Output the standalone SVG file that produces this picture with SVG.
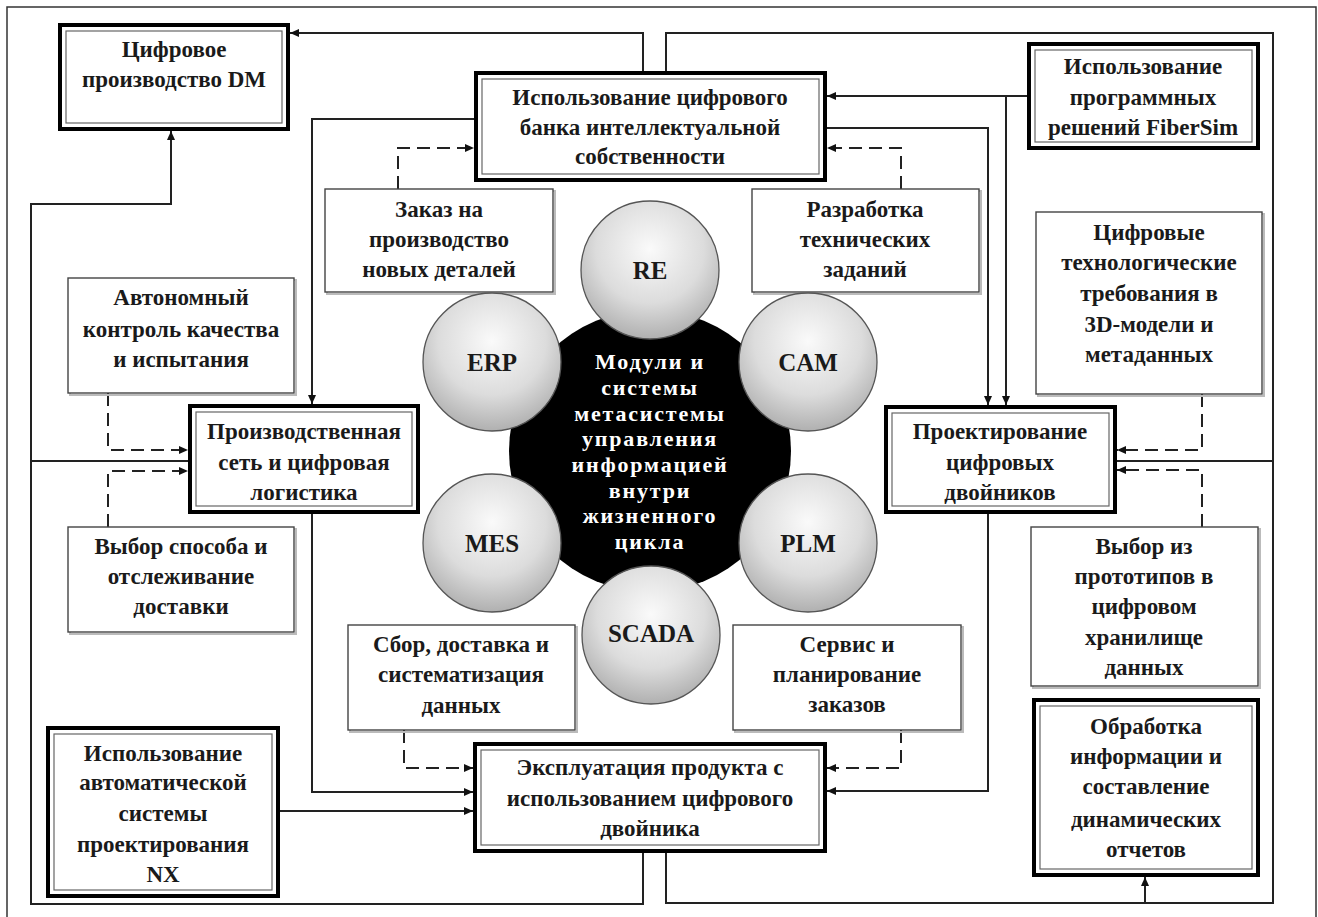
<svg xmlns="http://www.w3.org/2000/svg" width="1318" height="917" viewBox="0 0 1318 917">
<defs>
<style>
.t{font-family:"Liberation Serif","DejaVu Serif",serif;font-weight:bold;font-size:23px;fill:#1a1a1a;text-anchor:middle}
.c{font-family:"Liberation Serif","DejaVu Serif",serif;font-weight:bold;font-size:25px;fill:#1a1a1a;text-anchor:middle}
.w{font-family:"Liberation Serif","DejaVu Serif",serif;font-weight:bold;font-size:22px;fill:#fff;text-anchor:middle;letter-spacing:1.8px}
.bo{fill:#fff;stroke:#000;stroke-width:4}
.bi{fill:none;stroke:#666;stroke-width:1.2}
.tb{fill:#fff;stroke:#444;stroke-width:1.4}
.sh{fill:none;stroke:#bbb;stroke-width:2}
.ln{fill:none;stroke:#222;stroke-width:2}
.dl{fill:none;stroke:#222;stroke-width:2;stroke-dasharray:13 7}
.ci{fill:url(#g);stroke:#555;stroke-width:1.3}
</style>
<radialGradient id="g" cx="50%" cy="35%" r="65%">
<stop offset="0" stop-color="#fafafa"/>
<stop offset="0.6" stop-color="#dcdcdc"/>
<stop offset="1" stop-color="#b0b0b0"/>
</radialGradient>
<marker id="a" markerUnits="userSpaceOnUse" markerWidth="9" markerHeight="8" refX="9" refY="4" orient="auto">
<path d="M0,0 L9,4 L0,8 z" fill="#111"/>
</marker>
</defs>
<rect width="1318" height="917" fill="#fff"/>
<path d="M7,920 V7 H1316 V920" fill="none" stroke="#333" stroke-width="1.5"/>

<g id="connectors">
<path class="ln" d="M643,71 V33 H290" marker-end="url(#a)"/>
<path class="ln" d="M666,71 V33 H1273 V903 H666 V853"/>
<path class="ln" d="M1145,903 V877" marker-end="url(#a)"/>
<path class="ln" d="M1117,461 H1273"/>
<path class="ln" d="M643,853 V904 H31 V204 H171 V131" marker-end="url(#a)"/>
<path class="ln" d="M188,461 H31"/>
<path class="ln" d="M474,119 H312 V404" marker-end="url(#a)"/>
<path class="ln" d="M312,514 V792 H473" marker-end="url(#a)"/>
<path class="ln" d="M280,811 H473" marker-end="url(#a)"/>
<path class="ln" d="M1027,96 H827" marker-end="url(#a)"/>
<path class="ln" d="M1006,96 V405" marker-end="url(#a)"/>
<path class="ln" d="M827,128 H988 V405" marker-end="url(#a)"/>
<path class="ln" d="M988,514 V791 H827" marker-end="url(#a)"/>
<path class="dl" d="M398,189 V148 H474" marker-end="url(#a)"/>
<path class="dl" d="M901,189 V148 H827" marker-end="url(#a)"/>
<path class="dl" d="M108,393 V450 H188" marker-end="url(#a)"/>
<path class="dl" d="M108,527 V471 H188" marker-end="url(#a)"/>
<path class="dl" d="M1202,394 V450 H1117" marker-end="url(#a)"/>
<path class="dl" d="M1202,527 V470 H1117" marker-end="url(#a)"/>
<path class="dl" d="M404,730 V768 H473" marker-end="url(#a)"/>
<path class="dl" d="M901,730 V768 H827" marker-end="url(#a)"/>
</g>

<g id="n-dm">
<rect class="bo" x="60" y="25" width="228" height="104"/>
<rect class="bi" x="66" y="31" width="216" height="92"/>
<text class="t" x="174" y="57">Цифровое</text>
<text class="t" x="174" y="87">производство DM</text>
</g>
<g id="n-bank">
<rect class="bo" x="476" y="73" width="349" height="107"/>
<rect class="bi" x="482" y="79" width="337" height="95"/>
<text class="t" x="650" y="105">Использование цифрового</text>
<text class="t" x="650" y="135">банка интеллектуальной</text>
<text class="t" x="650" y="164">собственности</text>
</g>
<g id="n-fibersim">
<rect class="bo" x="1029" y="44" width="229" height="104"/>
<rect class="bi" x="1035" y="50" width="217" height="92"/>
<text class="t" x="1143" y="74">Использование</text>
<text class="t" x="1143" y="105">программных</text>
<text class="t" x="1143" y="135">решений FiberSim</text>
</g>
<g id="n-prod">
<rect class="bo" x="190" y="406" width="228" height="106"/>
<rect class="bi" x="196" y="412" width="216" height="94"/>
<text class="t" x="304" y="439">Производственная</text>
<text class="t" x="304" y="470">сеть и цифровая</text>
<text class="t" x="304" y="500">логистика</text>
</g>
<g id="n-proj">
<rect class="bo" x="886" y="407" width="229" height="105"/>
<rect class="bi" x="892" y="413" width="217" height="93"/>
<text class="t" x="1000" y="439">Проектирование</text>
<text class="t" x="1000" y="470">цифровых</text>
<text class="t" x="1000" y="500">двойников</text>
</g>
<g id="n-expl">
<rect class="bo" x="475" y="744" width="350" height="107"/>
<rect class="bi" x="481" y="750" width="338" height="95"/>
<text class="t" x="650" y="775">Эксплуатация продукта с</text>
<text class="t" x="650" y="806">использованием цифрового</text>
<text class="t" x="650" y="836">двойника</text>
</g>
<g id="n-nx">
<rect class="bo" x="48" y="728" width="230" height="168"/>
<rect class="bi" x="54" y="734" width="218" height="156"/>
<text class="t" x="163" y="761">Использование</text>
<text class="t" x="163" y="790">автоматической</text>
<text class="t" x="163" y="821">системы</text>
<text class="t" x="163" y="852">проектирования</text>
<text class="t" x="163" y="882">NX</text>
</g>
<g id="n-obr">
<rect class="bo" x="1034" y="700" width="224" height="175"/>
<rect class="bi" x="1040" y="706" width="212" height="163"/>
<text class="t" x="1146" y="734">Обработка</text>
<text class="t" x="1146" y="764">информации и</text>
<text class="t" x="1146" y="794">составление</text>
<text class="t" x="1146" y="827">динамических</text>
<text class="t" x="1146" y="857">отчетов</text>
</g>

<g id="n-zakaz">
<rect class="sh" x="327" y="191" width="228" height="103"/>
<rect class="tb" x="325" y="189" width="228" height="103"/>
<text class="t" x="439" y="217">Заказ на</text>
<text class="t" x="439" y="247">производство</text>
<text class="t" x="439" y="277">новых деталей</text>
</g>
<g id="n-razr">
<rect class="sh" x="754" y="191" width="227" height="103"/>
<rect class="tb" x="752" y="189" width="227" height="103"/>
<text class="t" x="865" y="217">Разработка</text>
<text class="t" x="865" y="247">технических</text>
<text class="t" x="865" y="277">заданий</text>
</g>
<g id="n-avt">
<rect class="sh" x="70" y="280" width="226" height="115"/>
<rect class="tb" x="68" y="278" width="226" height="115"/>
<text class="t" x="181" y="305">Автономный</text>
<text class="t" x="181" y="337">контроль качества</text>
<text class="t" x="181" y="367">и испытания</text>
</g>
<g id="n-vybor1">
<rect class="sh" x="70" y="529" width="226" height="105"/>
<rect class="tb" x="68" y="527" width="226" height="105"/>
<text class="t" x="181" y="554">Выбор способа и</text>
<text class="t" x="181" y="584">отслеживание</text>
<text class="t" x="181" y="614">доставки</text>
</g>
<g id="n-cifr">
<rect class="sh" x="1038" y="214" width="226" height="182"/>
<rect class="tb" x="1036" y="212" width="226" height="182"/>
<text class="t" x="1149" y="240">Цифровые</text>
<text class="t" x="1149" y="270">технологические</text>
<text class="t" x="1149" y="301">требования в</text>
<text class="t" x="1149" y="332">3D-модели и</text>
<text class="t" x="1149" y="362">метаданных</text>
</g>
<g id="n-vybor2">
<rect class="sh" x="1033" y="529" width="227" height="159"/>
<rect class="tb" x="1031" y="527" width="227" height="159"/>
<text class="t" x="1144" y="554">Выбор из</text>
<text class="t" x="1144" y="584">прототипов в</text>
<text class="t" x="1144" y="614">цифровом</text>
<text class="t" x="1144" y="645">хранилище</text>
<text class="t" x="1144" y="675">данных</text>
</g>
<g id="n-sbor">
<rect class="sh" x="350" y="627" width="227" height="105"/>
<rect class="tb" x="348" y="625" width="227" height="105"/>
<text class="t" x="461" y="652">Сбор, доставка и</text>
<text class="t" x="461" y="682">систематизация</text>
<text class="t" x="461" y="713">данных</text>
</g>
<g id="n-serv">
<rect class="sh" x="735" y="627" width="228" height="105"/>
<rect class="tb" x="733" y="625" width="228" height="105"/>
<text class="t" x="847" y="652">Сервис и</text>
<text class="t" x="847" y="682">планирование</text>
<text class="t" x="847" y="712">заказов</text>
</g>

<g id="n-center">
<circle cx="650" cy="451" r="141" fill="#000"/>
<text class="w" x="650" y="369">Модули и</text>
<text class="w" x="650" y="395">системы</text>
<text class="w" x="650" y="421">метасистемы</text>
<text class="w" x="650" y="446">управления</text>
<text class="w" x="650" y="472">информацией</text>
<text class="w" x="650" y="498">внутри</text>
<text class="w" x="650" y="523">жизненного</text>
<text class="w" x="650" y="549">цикла</text>
</g>
<g id="n-re"><circle class="ci" cx="650" cy="270" r="69"/><text class="c" x="650" y="279">RE</text></g>
<g id="n-cam"><circle class="ci" cx="808" cy="362" r="69"/><text class="c" x="808" y="371">CAM</text></g>
<g id="n-plm"><circle class="ci" cx="808" cy="543" r="69"/><text class="c" x="808" y="552">PLM</text></g>
<g id="n-scada"><circle class="ci" cx="651" cy="635" r="69"/><text class="c" x="651" y="642">SCADA</text></g>
<g id="n-mes"><circle class="ci" cx="492" cy="543" r="69"/><text class="c" x="492" y="552">MES</text></g>
<g id="n-erp"><circle class="ci" cx="492" cy="362" r="69"/><text class="c" x="492" y="371">ERP</text></g>
</svg>
